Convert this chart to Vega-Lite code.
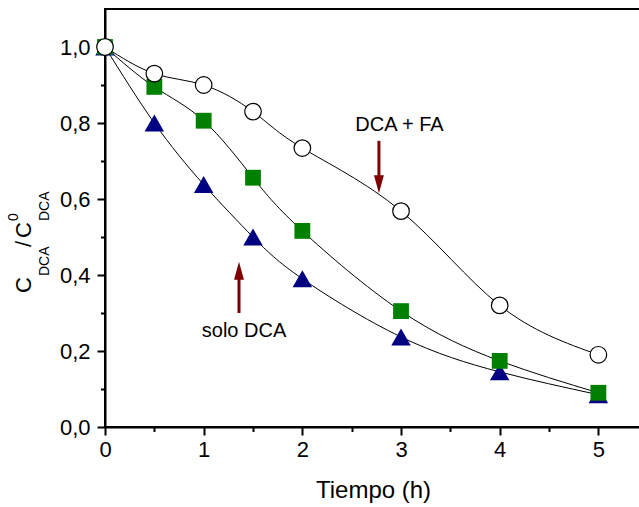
{
  "$schema": "https://vega.github.io/schema/vega-lite/v6.json",
  "width": 536,
  "height": 418,
  "autosize": {"type": "none"},
  "padding": {"left": 105, "top": 9, "right": 0, "bottom": 80},
  "background": "white",
  "config": {
    "view": {"stroke": "black", "strokeWidth": 2},
    "font": "Liberation Sans"
  },
  "datasets": {
    "pts": [
      {"serie": "DCA + FA", "t": 0, "c": 1.0},
      {"serie": "DCA + FA", "t": 0.5, "c": 0.93},
      {"serie": "DCA + FA", "t": 1, "c": 0.90},
      {"serie": "DCA + FA", "t": 1.5, "c": 0.83},
      {"serie": "DCA + FA", "t": 2, "c": 0.734},
      {"serie": "DCA + FA", "t": 3, "c": 0.568},
      {"serie": "DCA + FA", "t": 4, "c": 0.32},
      {"serie": "DCA + FA", "t": 5, "c": 0.19},
      {"serie": "medio", "t": 0, "c": 1.0},
      {"serie": "medio", "t": 0.5, "c": 0.895},
      {"serie": "medio", "t": 1, "c": 0.806},
      {"serie": "medio", "t": 1.5, "c": 0.656},
      {"serie": "medio", "t": 2, "c": 0.516},
      {"serie": "medio", "t": 3, "c": 0.305},
      {"serie": "medio", "t": 4, "c": 0.174},
      {"serie": "medio", "t": 5, "c": 0.09},
      {"serie": "solo DCA", "t": 0, "c": 1.0},
      {"serie": "solo DCA", "t": 0.5, "c": 0.80},
      {"serie": "solo DCA", "t": 1, "c": 0.638},
      {"serie": "solo DCA", "t": 1.5, "c": 0.50},
      {"serie": "solo DCA", "t": 2, "c": 0.39},
      {"serie": "solo DCA", "t": 3, "c": 0.237},
      {"serie": "solo DCA", "t": 4, "c": 0.145},
      {"serie": "solo DCA", "t": 5, "c": 0.085}
    ]
  },
  "encoding": {
    "x": {
      "field": "t",
      "type": "quantitative",
      "scale": {"domain": [0, 5.432], "nice": false, "zero": false},
      "axis": {
        "title": "Tiempo (h)",
        "values": [0, 0.5, 1, 1.5, 2, 2.5, 3, 3.5, 4, 4.5, 5],
        "labelExpr": "datum.value % 1 == 0 ? format(datum.value, 'd') : ''",
        "grid": false,
        "domainColor": "black",
        "domainWidth": 2,
        "tickColor": "black",
        "tickWidth": 2,
        "tickSize": {"condition": {"test": "datum.value % 1 != 0", "value": 4.5}, "value": 8},
        "labelFontSize": 22,
        "labelColor": "black",
        "labelPadding": 4,
        "labelFlush": false,
        "labelOverlap": false,
        "titleFontSize": 24,
        "titleFontWeight": "normal",
        "titleColor": "black",
        "titlePadding": 18
      }
    },
    "y": {
      "field": "c",
      "type": "quantitative",
      "scale": {"domain": [0, 1.1], "nice": false},
      "axis": {
        "title": null,
        "values": [0, 0.1, 0.2, 0.3, 0.4, 0.5, 0.6, 0.7, 0.8, 0.9, 1.0],
        "labelExpr": "round(datum.value*10) % 2 == 0 ? replace(format(datum.value, '.1f'), '.', ',') : ''",
        "grid": false,
        "domainColor": "black",
        "domainWidth": 2,
        "tickColor": "black",
        "tickWidth": 2,
        "tickSize": {"condition": {"test": "round(datum.value*10) % 2 == 1", "value": 4.5}, "value": 8},
        "labelFontSize": 22,
        "labelColor": "black",
        "labelPadding": 7,
        "labelOverlap": false
      }
    }
  },
  "layer": [
    {
      "data": {"name": "pts"},
      "mark": {"type": "line", "interpolate": "natural", "color": "black", "strokeWidth": 1},
      "encoding": {"detail": {"field": "serie"}}
    },
    {
      "data": {"name": "pts"},
      "transform": [{"filter": "datum.serie == 'solo DCA'"}],
      "mark": {"type": "point", "shape": "triangle-up", "filled": true, "color": "#000080", "size": 380, "opacity": 1}
    },
    {
      "data": {"name": "pts"},
      "transform": [{"filter": "datum.serie == 'medio'"}],
      "mark": {"type": "point", "shape": "square", "filled": true, "color": "#008000", "size": 250, "opacity": 1}
    },
    {
      "data": {"name": "pts"},
      "transform": [{"filter": "datum.serie == 'DCA + FA'"}],
      "mark": {"type": "point", "shape": "circle", "filled": true, "fill": "white", "stroke": "black", "strokeWidth": 1.2, "size": 275, "opacity": 1}
    },
    {
      "data": {"values": [
        {"t": 2.776, "c": 0.753, "c2": 0.655},
        {"t": 1.358, "c": 0.300, "c2": 0.400}
      ]},
      "mark": {"type": "rule", "color": "#800000", "strokeWidth": 3},
      "encoding": {"y2": {"field": "c2"}}
    },
    {
      "data": {"values": [
        {"t": 2.776, "c": 0.639, "dir": "down"},
        {"t": 1.358, "c": 0.411, "dir": "up"}
      ]},
      "mark": {"type": "point", "filled": true, "color": "#800000", "size": 324, "opacity": 1},
      "encoding": {
        "shape": {
          "field": "dir",
          "type": "nominal",
          "scale": {"domain": ["down", "up"], "range": ["M-0.55,-1L0.55,-1L0,1Z", "M-0.55,1L0.55,1L0,-1Z"]},
          "legend": null
        }
      }
    },
    {
      "data": {"values": [
        {"label": "DCA + FA", "t": 2.984, "c": 0.779},
        {"label": "solo DCA", "t": 1.409, "c": 0.238}
      ]},
      "mark": {"type": "text", "fontSize": 20, "color": "black", "align": "center", "baseline": "alphabetic"},
      "encoding": {"text": {"field": "label"}}
    },
    {
      "data": {"values": [
        {"label": "C", "t": -0.750, "c": 0.3526},
        {"label": "/", "t": -0.750, "c": 0.4737},
        {"label": "C", "t": -0.750, "c": 0.4974}
      ]},
      "mark": {"type": "text", "fontSize": 22, "color": "black", "angle": 270, "align": "left", "baseline": "alphabetic"},
      "encoding": {"text": {"field": "label"}}
    },
    {
      "data": {"values": [
        {"label": "DCA", "t": -0.5674, "c": 0.3974},
        {"label": "DCA", "t": -0.5674, "c": 0.5421},
        {"label": "0", "t": -0.882, "c": 0.5421}
      ]},
      "mark": {"type": "text", "fontSize": 14, "color": "black", "angle": 270, "align": "left", "baseline": "alphabetic"},
      "encoding": {"text": {"field": "label"}}
    }
  ]
}
